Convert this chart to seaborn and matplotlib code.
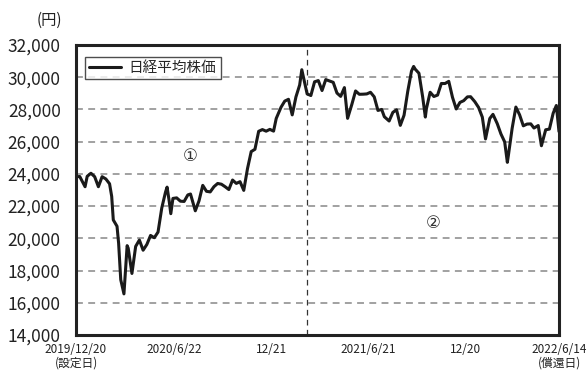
import matplotlib
matplotlib.use("Agg")
import matplotlib.pyplot as plt
import seaborn as sns
import pandas as pd

# Nikkei 225 closing levels (yen), sampled through the fund's life
dates = [
    "2019-12-20", "2019-12-27", "2020-01-06", "2020-01-10", "2020-01-17", "2020-01-24",
    "2020-01-31", "2020-02-07", "2020-02-14", "2020-02-21", "2020-02-25", "2020-02-28",
    "2020-03-06", "2020-03-09", "2020-03-13", "2020-03-16", "2020-03-19", "2020-03-25",
    "2020-03-27", "2020-04-03", "2020-04-10", "2020-04-17", "2020-04-24", "2020-05-01",
    "2020-05-08", "2020-05-15", "2020-05-22", "2020-05-29", "2020-06-05", "2020-06-08",
    "2020-06-12", "2020-06-15", "2020-06-19", "2020-06-26", "2020-07-03", "2020-07-10",
    "2020-07-17", "2020-07-22", "2020-07-31", "2020-08-07", "2020-08-14", "2020-08-21",
    "2020-08-28", "2020-09-04", "2020-09-11", "2020-09-18", "2020-09-25", "2020-10-02",
    "2020-10-09", "2020-10-16", "2020-10-23", "2020-10-30", "2020-11-06", "2020-11-13",
    "2020-11-20", "2020-11-27", "2020-12-04", "2020-12-11", "2020-12-18", "2020-12-25",
    "2020-12-30", "2021-01-08", "2021-01-15", "2021-01-22", "2021-01-29", "2021-02-05",
    "2021-02-12", "2021-02-16", "2021-02-19", "2021-02-26", "2021-03-05", "2021-03-12",
    "2021-03-19", "2021-03-26", "2021-04-02", "2021-04-09", "2021-04-16", "2021-04-23",
    "2021-04-30", "2021-05-07", "2021-05-13", "2021-05-21", "2021-05-28", "2021-06-04",
    "2021-06-11", "2021-06-18", "2021-06-25", "2021-07-02", "2021-07-09", "2021-07-16",
    "2021-07-21", "2021-07-30", "2021-08-06", "2021-08-13", "2021-08-20", "2021-08-27",
    "2021-09-03", "2021-09-10", "2021-09-14", "2021-09-17", "2021-09-24", "2021-10-01",
    "2021-10-06", "2021-10-08", "2021-10-15", "2021-10-22", "2021-10-29", "2021-11-05",
    "2021-11-12", "2021-11-19", "2021-11-26", "2021-12-03", "2021-12-10", "2021-12-17",
    "2021-12-24", "2021-12-30", "2022-01-07", "2022-01-14", "2022-01-21", "2022-01-27",
    "2022-02-04", "2022-02-10", "2022-02-18", "2022-02-25", "2022-03-04", "2022-03-09",
    "2022-03-11", "2022-03-18", "2022-03-25", "2022-04-01", "2022-04-08", "2022-04-15",
    "2022-04-22", "2022-04-28", "2022-05-06", "2022-05-12", "2022-05-20", "2022-05-27",
    "2022-06-03", "2022-06-09", "2022-06-13", "2022-06-14",
]
nikkei = [
    23816, 23837, 23204, 23850, 24041, 23827,
    23205, 23827, 23687, 23386, 22605, 21142,
    20749, 19698, 17431, 17002, 16552, 19546,
    19389, 17820, 19498, 19897, 19262, 19619,
    20179, 20037, 20388, 21877, 22863, 23178,
    22305, 21530, 22478, 22512, 22306, 22290,
    22696, 22751, 21710, 22329, 23289, 22920,
    22882, 23205, 23406, 23360, 23204, 23029,
    23619, 23410, 23516, 22977, 24325, 25385,
    25527, 26644, 26751, 26652, 26763, 26656,
    27444, 28139, 28519, 28631, 27663, 28779,
    29520, 30467, 30018, 28966, 28864, 29717,
    29792, 29176, 29854, 29768, 29683, 29020,
    28812, 29357, 27448, 28317, 29149, 28941,
    28948, 28964, 29066, 28783, 27940, 28003,
    27548, 27283, 27820, 27977, 27013, 27641,
    29128, 30381, 30670, 30500, 30248, 28771,
    27528, 28048, 29068, 28804, 28892, 29611,
    29610, 29745, 28751, 28029, 28437, 28545,
    28782, 28791, 28478, 28124, 27522, 26170,
    27439, 27696, 27122, 26476, 25985, 24717,
    25163, 26827, 28149, 27666, 26985, 27093,
    27105, 26847, 27003, 25748, 26739, 26781,
    27761, 28246, 26987, 26629,
]

series_label = "日経平均株価"
y_ticks = [14000, 16000, 18000, 20000, 22000, 24000, 26000, 28000, 30000, 32000]
x_ticks = ["2019-12-20", "2020-06-22", "2020-12-21", "2021-06-21", "2021-12-20", "2022-06-14"]
x_tick_labels = ["2019/12/20\n(設定日)", "2020/6/22", "12/21", "2021/6/21", "12/20", "2022/6/14\n(償還日)"]
divider_date = "2021-02-26"

df = pd.DataFrame({"date": pd.to_datetime(dates), "value": nikkei})

sns.set_theme(style="white")
plt.rcParams["font.family"] = ["Noto Sans CJK JP", "DejaVu Sans"]

fig = plt.figure(figsize=(5.87, 3.77), dpi=100)
ax = fig.add_axes([0.1295, 0.1114, 0.8228, 0.7692])

sns.lineplot(data=df, x="date", y="value", ax=ax, color="#1a1a1a", linewidth=2.2,
             label=series_label)

ax.set_xlim(pd.Timestamp(x_ticks[0]), pd.Timestamp(x_ticks[-1]))
ax.set_ylim(y_ticks[0], y_ticks[-1])
ax.set_xlabel("")
ax.set_ylabel("")

ax.set_yticks(y_ticks)
ax.set_yticklabels([f"{v:,}" for v in y_ticks], fontsize=12.5, color="#222222")
ax.set_xticks(pd.to_datetime(x_ticks))
ax.set_xticklabels(x_tick_labels, fontsize=8.5, color="#222222", linespacing=1.0)
ax.tick_params(axis="both", direction="in", length=4, width=1.5, color="#222222")
ax.tick_params(axis="y", pad=11)
ax.tick_params(axis="x", pad=6)

# horizontal dashed reference lines
for v in y_ticks[1:-1]:
    ax.axhline(v, color="#888888", linewidth=1.1, linestyle=(0, (4.5, 3.5)), zorder=0)
ax.axvline(pd.Timestamp(divider_date), color="#333333", linewidth=0.9,
           linestyle=(0, (4.5, 3.5)), zorder=0)

for side in ["left", "bottom", "right", "top"]:
    ax.spines[side].set_visible(True)
    ax.spines[side].set_color("#222222")
    ax.spines[side].set_linewidth(2.2)

ax.text(-0.029, 1.085, "(円)", transform=ax.transAxes, fontsize=11, ha="right",
        va="center", color="#222222")
ax.text(pd.Timestamp("2020-07-22"), 25100, "①", fontsize=12, ha="center", va="center",
        color="#333333", family=["DejaVu Sans"])
ax.text(pd.Timestamp("2021-10-20"), 20950, "②", fontsize=12, ha="center", va="center",
        color="#333333", family=["DejaVu Sans"])

leg = ax.legend(loc="upper left", bbox_to_anchor=(0.018, 0.96), frameon=True, fancybox=False,
                fontsize=10.5, handlelength=2.2, borderpad=0.3, handletextpad=0.5,
                borderaxespad=0)
leg.get_frame().set_edgecolor("#222222")
leg.get_frame().set_linewidth(1.0)

fig.savefig("out.png", dpi=100)
